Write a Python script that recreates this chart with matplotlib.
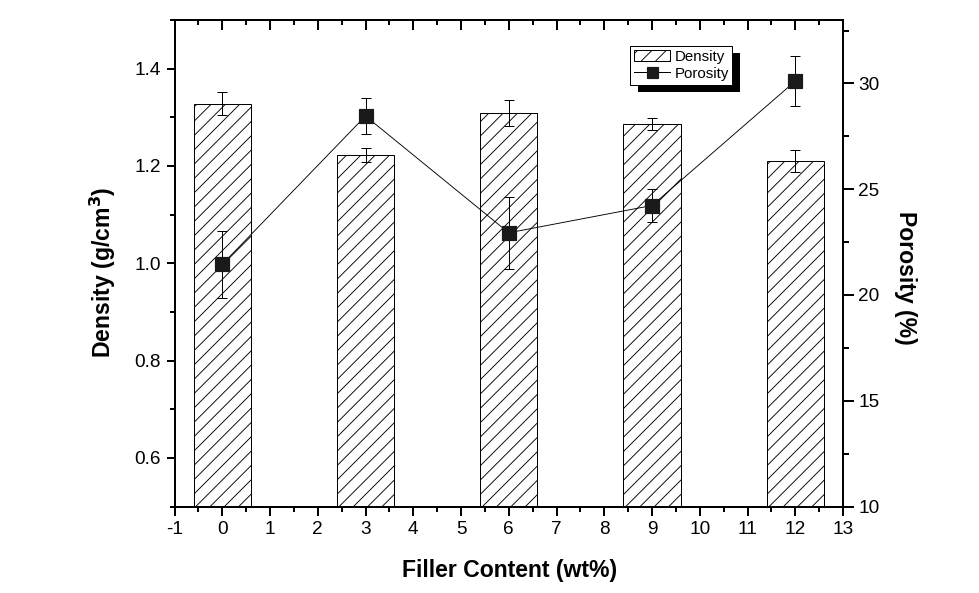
import matplotlib
matplotlib.use("Agg")
import matplotlib.pyplot as plt
from matplotlib.ticker import MultipleLocator
from matplotlib.patches import Rectangle
from matplotlib.lines import Line2D
from matplotlib.transforms import IdentityTransform

# ---- data ----
filler = [0, 3, 6, 9, 12]
density = [1.328, 1.222, 1.309, 1.286, 1.210]
density_err = [0.024, 0.014, 0.027, 0.012, 0.022]
porosity = [21.45, 28.46, 22.94, 24.23, 30.11]
porosity_err = [1.57, 0.86, 1.71, 0.78, 1.18]
xticks = list(range(-1, 14))
left_ticks = [0.6, 0.8, 1.0, 1.2, 1.4]
right_ticks = [10, 15, 20, 25, 30]

DPI = 86
def P(px):
    return px * 72.0 / DPI

plt.rcParams['font.family'] = ['Liberation Sans', 'DejaVu Sans']
plt.rcParams['hatch.linewidth'] = P(0.9)
plt.rcParams['hatch.color'] = 'black'

W, H = 979, 593
fig = plt.figure(figsize=(W / DPI, H / DPI), dpi=DPI)
L, R, T, B = 174.5, 843.0, 20.0, 506.5
ax = fig.add_axes([L / W, 1 - B / H, (R - L) / W, (B - T) / H])
ax2 = ax.twinx()

# bars
ax.bar(filler, density, width=1.2, facecolor='white', edgecolor='black',
       linewidth=P(1.0), hatch='//', zorder=2)
ax.errorbar(filler, density, yerr=density_err, fmt='none', ecolor='black',
            elinewidth=P(1.0), capsize=P(5), capthick=P(1.0), zorder=3)

# porosity
ax2.errorbar(filler, porosity, yerr=porosity_err, fmt='none', ecolor='black',
             elinewidth=P(1.0), capsize=P(5), capthick=P(1.0), zorder=3)
ax2.plot(filler, porosity, color='black', linewidth=P(0.9), marker='s',
         markersize=P(14), markerfacecolor='#1a1a1a', markeredgecolor='#1a1a1a',
         zorder=4)

ax.set_xlim(-1, 13)
ax.set_ylim(0.5, 1.5)
ax2.set_ylim(10, 33)

ax.set_xticks(xticks)
ax.set_xticklabels([str(v) for v in xticks])
ax.xaxis.set_minor_locator(MultipleLocator(0.5))
ax.set_yticks(left_ticks)
ax.set_yticklabels([f"{v:.1f}" for v in left_ticks])
ax.yaxis.set_minor_locator(MultipleLocator(0.1))
ax2.set_yticks(right_ticks)
ax2.set_yticklabels([str(v) for v in right_ticks])
ax2.yaxis.set_minor_locator(MultipleLocator(2.5))

tfs = P(19)
lw_sp = P(2.0)
for a in (ax, ax2):
    for s in a.spines.values():
        s.set_linewidth(lw_sp)
ax.tick_params(axis='x', which='major', direction='out', length=P(9), width=lw_sp,
               labelsize=tfs, pad=P(6))
ax.tick_params(axis='x', which='minor', direction='out', length=P(5), width=lw_sp)
ax.tick_params(axis='y', which='major', direction='out', length=P(8), width=lw_sp,
               labelsize=tfs, pad=P(6))
ax.tick_params(axis='y', which='minor', direction='out', length=P(5), width=lw_sp)
ax2.tick_params(axis='y', which='major', direction='out', length=P(11), width=lw_sp,
                labelsize=tfs, pad=P(4))
ax2.tick_params(axis='y', which='minor', direction='out', length=P(6), width=lw_sp)

# top ticks inward
sec = ax.secondary_xaxis('top')
sec.set_xticks(xticks)
sec.xaxis.set_minor_locator(MultipleLocator(0.5))
sec.tick_params(axis='x', which='major', direction='in', length=P(10), width=lw_sp,
                labeltop=False)
sec.tick_params(axis='x', which='minor', direction='in', length=P(5), width=lw_sp)
sec.spines['top'].set_linewidth(lw_sp)

lfs = P(23)
ax.set_xlabel('Filler Content (wt%)', fontsize=lfs, fontweight='bold', va='center')
ax.xaxis.set_label_coords((510 - L) / (R - L), (B - 571) / (B - T))
ax.set_ylabel('Density (g/cm$^{\\mathbf{3}}$)', fontsize=lfs, fontweight='bold',
              va='center')
ax.yaxis.set_label_coords((103 - L) / (R - L), (B - 272) / (B - T))
ax2.set_ylabel('Porosity (%)', fontsize=lfs, fontweight='bold', rotation=270,
               va='center')
ax2.yaxis.set_label_coords((905 - L) / (R - L), (B - 278) / (B - T))

plt.rcParams['mathtext.fontset'] = 'custom'
plt.rcParams['mathtext.rm'] = 'Liberation Sans'
plt.rcParams['mathtext.bf'] = 'Liberation Sans:bold'
plt.rcParams['mathtext.it'] = 'Liberation Sans:italic'

# legend
h_bar = Rectangle((0, 0), 1, 1, facecolor='white', edgecolor='black',
                  linewidth=P(1.0), hatch='//')
h_line = Line2D([], [], color='black', linewidth=P(1.0), marker='s',
                markersize=P(11), markerfacecolor='#1a1a1a', markeredgecolor='#1a1a1a')
leg = ax2.legend([h_bar, h_line], ['Density', 'Porosity'], loc='upper left',
                 bbox_to_anchor=((630 - L) / (R - L), (B - 46) / (B - T)),
                 borderaxespad=0, fancybox=False, frameon=True,
                 fontsize=P(15), handlelength=2.4, handleheight=0.8,
                 handletextpad=0.3, labelspacing=0.2, borderpad=0.25)
leg.get_frame().set_edgecolor('black')
leg.get_frame().set_linewidth(P(1.0))
leg.get_frame().set_alpha(1)
leg.set_zorder(5)

fig.canvas.draw()
bb = leg.get_window_extent()
shadow = Rectangle((bb.x0 + 8, bb.y0 - 7), bb.width, bb.height,
                   transform=IdentityTransform(), facecolor='black',
                   edgecolor='none', zorder=4.9, clip_on=False)
ax2.add_artist(shadow)

fig.savefig('out.png', dpi=DPI)
